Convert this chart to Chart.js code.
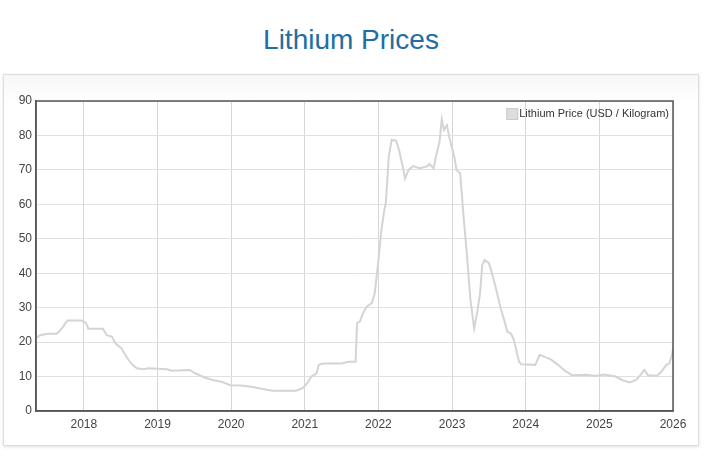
<!DOCTYPE html>
<html>
<head>
<meta charset="utf-8">
<title>Lithium Prices</title>
<script src="https://cdn.jsdelivr.net/npm/chart.js@4"></script>
<style>
  html, body { margin: 0; padding: 0; background: #fff; }
  body { width: 722px; height: 460px; position: relative; overflow: hidden; font-family: "Liberation Sans", Arial, sans-serif; }
  h1 {
    position: absolute; left: 0; top: 24px; width: 702px; margin: 0;
    text-align: center; font-weight: normal; font-size: 28px; color: #206ea4;
  }
  .panel {
    position: absolute; left: 3px; top: 74px; width: 694px; height: 370px;
    border: 1px solid #ddd; background: linear-gradient(#f7f7f7, #fff 30px);
    box-shadow: 0 1px 3px rgba(0,0,0,0.12);
  }
  .panel canvas { position: absolute; left: 0; top: 0; }
</style>
</head>
<body>
<h1>Lithium Prices</h1>
<div class="panel"><canvas id="chart" width="694" height="370"></canvas></div>
<script>
// Lithium price, USD / kg (decimal years)
const dates = [
  2017.36, 2017.41, 2017.50, 2017.63, 2017.66, 2017.72, 2017.75, 2017.78, 2017.97, 2018.03,
  2018.06, 2018.26, 2018.31, 2018.38, 2018.43, 2018.51, 2018.59, 2018.66, 2018.72, 2018.81,
  2018.88, 2019.13, 2019.19, 2019.44, 2019.50, 2019.63, 2019.75, 2019.88, 2019.99, 2020.13,
  2020.25, 2020.38, 2020.56, 2020.88, 2020.97, 2021.03, 2021.09, 2021.16, 2021.19, 2021.25,
  2021.50, 2021.59, 2021.69, 2021.71, 2021.75, 2021.78, 2021.84, 2021.91, 2021.95, 2022.00,
  2022.04, 2022.08, 2022.10, 2022.14, 2022.18, 2022.24, 2022.28, 2022.33, 2022.36, 2022.41,
  2022.47, 2022.56, 2022.66, 2022.69, 2022.75, 2022.78, 2022.83, 2022.86, 2022.89, 2022.93,
  2022.97, 2023.03, 2023.06, 2023.11, 2023.16, 2023.20, 2023.25, 2023.30, 2023.34, 2023.38,
  2023.41, 2023.44, 2023.50, 2023.53, 2023.59, 2023.66, 2023.72, 2023.75, 2023.80, 2023.84,
  2023.91, 2023.94, 2024.13, 2024.19, 2024.28, 2024.34, 2024.44, 2024.53, 2024.63, 2024.81,
  2024.94, 2025.06, 2025.22, 2025.31, 2025.41, 2025.50, 2025.56, 2025.61, 2025.66, 2025.78,
  2025.84, 2025.91, 2025.95, 2025.99, 2026.00,
];
const prices = [
  21.4, 22.0, 22.4, 22.4, 23.0, 24.5, 25.5, 26.3, 26.3, 25.5,
  23.9, 23.9, 22.0, 21.6, 19.6, 18.2, 15.3, 13.4, 12.4, 12.1,
  12.4, 12.1, 11.7, 11.9, 11.1, 9.8, 9.0, 8.4, 7.5, 7.4,
  7.1, 6.6, 5.9, 5.9, 6.6, 8.0, 10.0, 10.9, 13.4, 13.8,
  13.8, 14.3, 14.3, 25.5, 26.0, 27.9, 30.3, 31.3, 34.2, 43.8,
  52.5, 58.4, 60.3, 73.8, 78.7, 78.5, 75.8, 71.0, 67.5, 70.0,
  71.1, 70.5, 71.0, 71.7, 70.5, 73.8, 78.2, 84.7, 81.6, 83.0,
  78.7, 73.8, 70.0, 69.0, 55.5, 45.8, 32.2, 24.0, 28.4, 34.2,
  42.4, 43.8, 42.9, 40.9, 36.1, 29.8, 25.5, 23.0, 22.5, 20.6,
  14.3, 13.6, 13.4, 16.3, 15.5, 15.0, 13.4, 11.7, 10.4, 10.5,
  10.2, 10.6, 10.0, 9.0, 8.3, 9.0, 10.5, 11.9, 10.4, 10.2,
  11.4, 13.4, 13.8, 16.7, 18.2,
];
const yearTicks = [2018, 2019, 2020, 2021, 2022, 2023, 2024, 2025, 2026];
const seriesLabel = 'Lithium Price (USD / Kilogram)';

const FONT = { family: '"Liberation Sans", Arial, sans-serif', size: 12 };

// frame round the plot + legend drawn inside the top-right corner
const framePlugin = {
  id: 'frame',
  afterDraw(chart) {
    const { ctx, chartArea: a } = chart;
    ctx.save();
    ctx.strokeStyle = '#555';
    ctx.lineWidth = 1.5;
    ctx.strokeRect(a.left, a.top, a.right - a.left, a.bottom - a.top);

    const label = chart.data.datasets[0].label;
    ctx.font = '11px "Liberation Sans", Arial, sans-serif';
    const w = ctx.measureText(label).width;
    const tx = a.right - 4 - w;
    const ty = a.top + 13;
    ctx.fillStyle = '#ddd';
    ctx.fillRect(tx - 13, ty - 6, 12, 12);
    ctx.strokeStyle = '#ccc';
    ctx.lineWidth = 1;
    ctx.strokeRect(tx - 12.5, ty - 5.5, 11, 11);
    ctx.fillStyle = '#333';
    ctx.textBaseline = 'middle';
    ctx.fillText(label, tx, ty);
    ctx.restore();
  },
};

new Chart(document.getElementById('chart'), {
  type: 'line',
  data: {
    datasets: [{
      label:       seriesLabel,
      data:        dates.map((d, i) => ({ x: d, y: prices[i] })),
      borderColor: '#d4d4d4',
      borderWidth: 2,
      pointRadius: 0,
      tension:     0,
      fill:        false,
    }],
  },
  options: {
    responsive: false,
    animation: false,
    layout: { padding: { top: 26, right: 25, left: 0, bottom: 0 } },
    plugins: {
      legend:  { display: false },
      tooltip: { enabled: false },
    },
    scales: {
      x: {
        type: 'linear',
        min: 2017.35,
        max: 2026,
        afterBuildTicks: s => { s.ticks = yearTicks.map(v => ({ value: v })); },
        afterFit: s => { s.height = 34; },
        ticks: { color: '#444', font: FONT, padding: 6, maxRotation: 0, callback: v => String(v) },
        grid:  { color: '#d6d6d6', drawTicks: false },
        border: { color: '#555', width: 1.5 },
      },
      y: {
        min: 0,
        max: 90,
        afterFit: s => { s.width = 32; },
        ticks: { stepSize: 10, color: '#444', font: FONT, padding: 4 },
        grid:  { color: '#e0e0e0', drawTicks: false },
        border: { color: '#555', width: 1.5 },
      },
    },
  },
  plugins: [framePlugin],
});
</script>
</body>
</html>
